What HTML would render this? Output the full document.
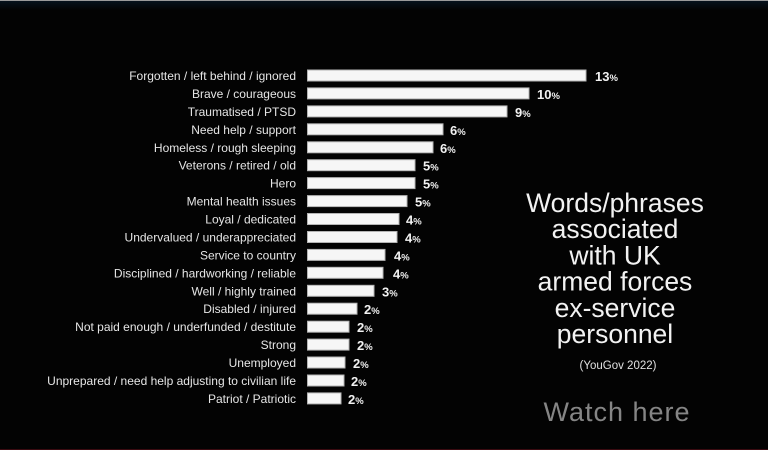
<!DOCTYPE html>
<html>
<head>
<meta charset="utf-8">
<style>
html,body{margin:0;padding:0;background:#030303;}
body{width:768px;height:450px;overflow:hidden;}
svg{display:block;}
</style>
</head>
<body>
<svg width="768" height="450" viewBox="0 0 768 450" xmlns="http://www.w3.org/2000/svg">
<defs>
<linearGradient id="tg" x1="0" y1="0" x2="0" y2="1">
<stop offset="0" stop-color="#06121c"/>
<stop offset="1" stop-color="#030303"/>
</linearGradient>
</defs>
<rect x="0" y="0" width="768" height="450" fill="#030303"/>
<rect x="0" y="1" width="768" height="9" fill="url(#tg)"/>
<rect x="0" y="0" width="768" height="1" fill="#9a9a9a"/>
<rect x="0" y="449" width="768" height="1" fill="#3a0a10"/>

<g font-family="'Liberation Sans', sans-serif" font-size="12" fill="#e6e6e6" text-anchor="end">
<text x="296" y="80">Forgotten / left behind / ignored</text>
<text x="296" y="97.9">Brave / courageous</text>
<text x="296" y="115.9">Traumatised / PTSD</text>
<text x="296" y="133.8">Need help / support</text>
<text x="296" y="151.8">Homeless / rough sleeping</text>
<text x="296" y="169.7">Veterons / retired / old</text>
<text x="296" y="187.6">Hero</text>
<text x="296" y="205.6">Mental health issues</text>
<text x="296" y="223.5">Loyal / dedicated</text>
<text x="296" y="241.5">Undervalued / underappreciated</text>
<text x="296" y="259.4">Service to country</text>
<text x="296" y="277.3">Disciplined / hardworking / reliable</text>
<text x="296" y="295.3">Well / highly trained</text>
<text x="296" y="313.2">Disabled / injured</text>
<text x="296" y="331.2">Not paid enough / underfunded / destitute</text>
<text x="296" y="349.1">Strong</text>
<text x="296" y="367">Unemployed</text>
<text x="296" y="385">Unprepared / need help adjusting to civilian life</text>
<text x="296" y="402.9">Patriot / Patriotic</text>
</g>

<g fill="#f6f6f6" stroke="#b4b4b4" stroke-width="1">
<rect x="307.5" y="70" width="278.5" height="11"/>
<rect x="307.5" y="87.9" width="221.5" height="11"/>
<rect x="307.5" y="105.9" width="199.5" height="11"/>
<rect x="307.5" y="123.8" width="135.5" height="11"/>
<rect x="307.5" y="141.8" width="125.5" height="11"/>
<rect x="307.5" y="159.7" width="107.5" height="11"/>
<rect x="307.5" y="177.6" width="107.5" height="11"/>
<rect x="307.5" y="195.6" width="99.5" height="11"/>
<rect x="307.5" y="213.5" width="91.5" height="11"/>
<rect x="307.5" y="231.5" width="89.5" height="11"/>
<rect x="307.5" y="249.4" width="77.5" height="11"/>
<rect x="307.5" y="267.3" width="75.5" height="11"/>
<rect x="307.5" y="285.3" width="66.5" height="11"/>
<rect x="307.5" y="303.2" width="49.5" height="11"/>
<rect x="307.5" y="321.2" width="41.5" height="11"/>
<rect x="307.5" y="339.1" width="41.5" height="11"/>
<rect x="307.5" y="357" width="37.5" height="11"/>
<rect x="307.5" y="375" width="36.5" height="11"/>
<rect x="307.5" y="392.9" width="33.5" height="11"/>
</g>

<g font-family="'Liberation Sans', sans-serif" font-size="13" font-weight="bold" fill="#f2f2f2">
<text x="595" y="81">13<tspan font-size="9.5">%</tspan></text>
<text x="537" y="98.9">10<tspan font-size="9.5">%</tspan></text>
<text x="515" y="116.9">9<tspan font-size="9.5">%</tspan></text>
<text x="450" y="134.8">6<tspan font-size="9.5">%</tspan></text>
<text x="440" y="152.8">6<tspan font-size="9.5">%</tspan></text>
<text x="423" y="170.7">5<tspan font-size="9.5">%</tspan></text>
<text x="423" y="188.6">5<tspan font-size="9.5">%</tspan></text>
<text x="415" y="206.6">5<tspan font-size="9.5">%</tspan></text>
<text x="406" y="224.5">4<tspan font-size="9.5">%</tspan></text>
<text x="405" y="242.5">4<tspan font-size="9.5">%</tspan></text>
<text x="394" y="260.4">4<tspan font-size="9.5">%</tspan></text>
<text x="393" y="278.3">4<tspan font-size="9.5">%</tspan></text>
<text x="382" y="296.3">3<tspan font-size="9.5">%</tspan></text>
<text x="364" y="314.2">2<tspan font-size="9.5">%</tspan></text>
<text x="357" y="332.2">2<tspan font-size="9.5">%</tspan></text>
<text x="357" y="350.1">2<tspan font-size="9.5">%</tspan></text>
<text x="353" y="368">2<tspan font-size="9.5">%</tspan></text>
<text x="351" y="386">2<tspan font-size="9.5">%</tspan></text>
<text x="348" y="403.9">2<tspan font-size="9.5">%</tspan></text>
</g>

<g font-family="'Liberation Sans', sans-serif" font-size="26.5" fill="#f2f2f2" text-anchor="middle">
<text x="615" y="212">Words/phrases</text>
<text x="615" y="238.2">associated</text>
<text x="615" y="264.4">with UK</text>
<text x="615" y="290.6">armed forces</text>
<text x="615" y="316.8">ex-service</text>
<text x="615" y="343">personnel</text>
</g>
<text x="618" y="369" font-family="'Liberation Sans', sans-serif" font-size="11.5" fill="#e0e0e0" text-anchor="middle">(YouGov 2022)</text>
<text x="617" y="421" font-family="'Liberation Sans', sans-serif" font-size="27" letter-spacing="1" fill="#858585" text-anchor="middle">Watch here</text>
</svg>
</body>
</html>
